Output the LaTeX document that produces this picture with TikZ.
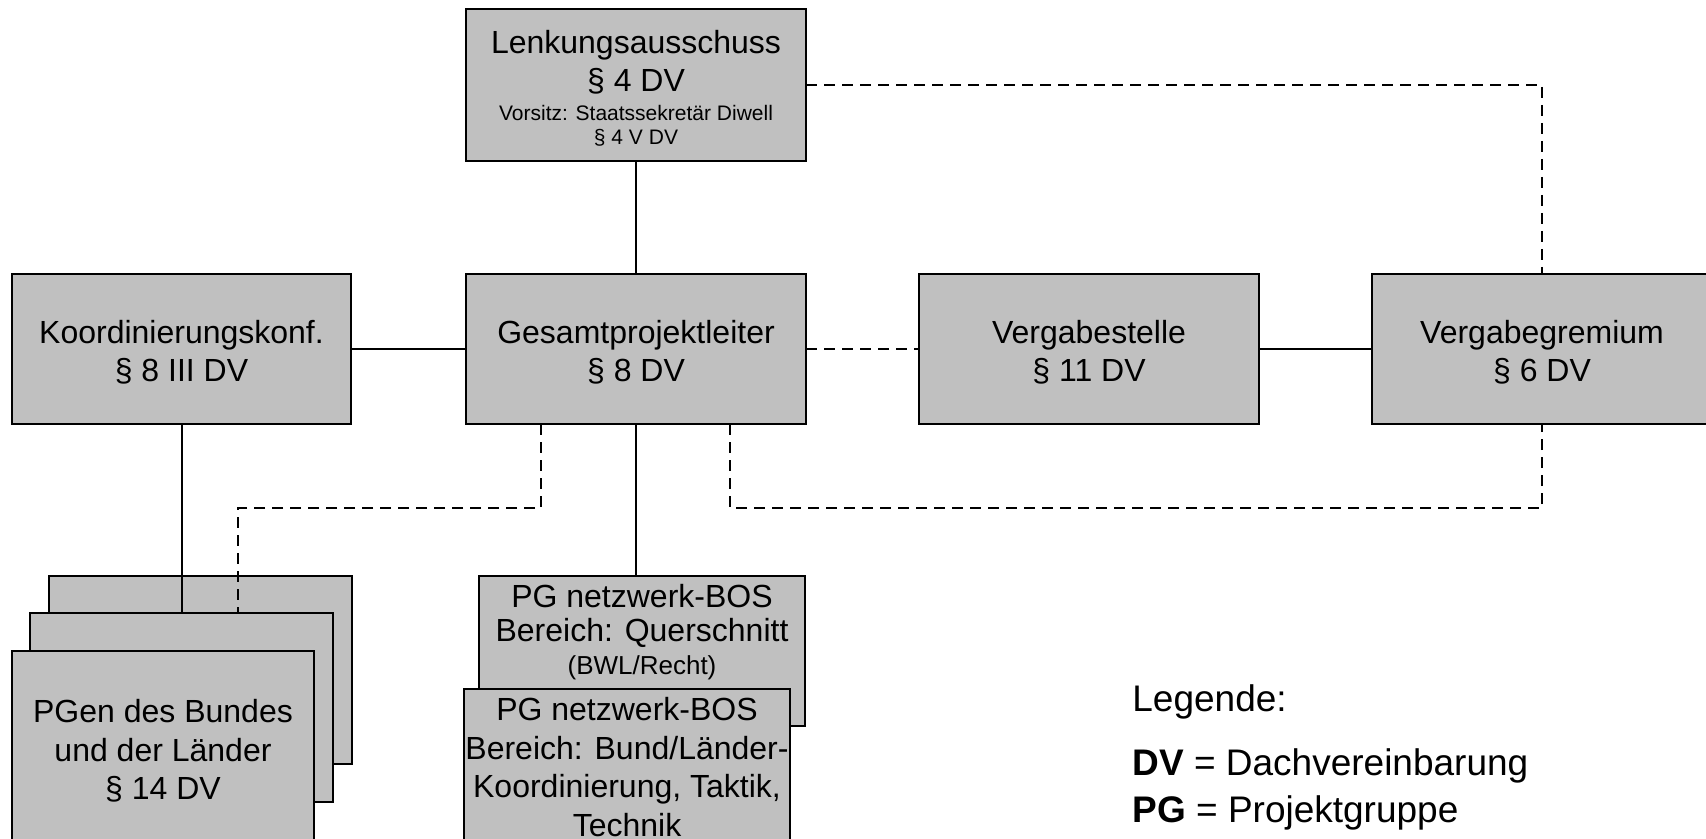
\documentclass[tikz,border=0pt]{standalone}
\usepackage{fontspec}
\setmainfont{Liberation Sans}
\definecolor{boxgray}{RGB}{192,192,192}
\tikzset{
  box/.style={draw=black, line width=1pt, fill=boxgray, inner sep=0pt, outer sep=0pt,
    align=center, font=\fontsize{16}{19.2}\selectfont},
  lbl/.style={inner sep=0pt, align=center, font=\fontsize{16}{19.2}\selectfont},
  conn/.style={draw=black, line width=1pt},
  dconn/.style={draw=black, line width=1pt, dash pattern=on 5.5pt off 3.5pt},
  legend/.style={inner sep=0pt, anchor=base west, font=\fontsize{18.5}{22}\selectfont}
}
\begin{document}
\begin{tikzpicture}[x=0.5pt, y=-0.5pt]
\clip (0,0) rectangle (1706,839);
\fill[white] (0,0) rectangle (1706,839);

% top
\node[box, minimum width=170pt, minimum height=76pt] (lenk) at (636,85)
  {\\[-4.5pt]Lenkungsausschuss\\§ 4 DV\\[-5pt]{\fontsize{10.5}{12}\selectfont Vorsitz: Staatssekretär Diwell}\\[-7pt]{\fontsize{10.5}{12}\selectfont § 4 V DV}};

% middle row
\node[box, minimum width=169.5pt, minimum height=75pt] (koord) at (181.5,349) {\\[-4.5pt]Koordinierungskonf.\\§ 8 III DV};
\node[box, minimum width=170pt, minimum height=75pt] (gesamt) at (636,349) {\\[-4.5pt]Gesamtprojektleiter\\§ 8 DV};
\node[box, minimum width=170pt, minimum height=75pt] (vstelle) at (1089,349) {\\[-4.5pt]Vergabestelle\\§ 11 DV};
\node[box, minimum width=170pt, minimum height=75pt] (vgrem) at (1542,349) {\\[-4.5pt]Vergabegremium\\§ 6 DV};

% PGen stack
\node[box, minimum width=151.5pt, minimum height=94pt] (pgback) at (200.5,670) {};
\node[box, minimum width=151.5pt, minimum height=94.5pt] (pgmid) at (181.5,707.5) {};
\node[box, minimum width=151pt, minimum height=100pt] (pgfront) at (163,751) {PGen des Bundes\\und der Länder\\§ 14 DV};

% PG netzwerk-BOS boxes
\node[box, minimum width=163pt, minimum height=75pt] (quer) at (642,651) {};
\node[lbl] (quertext) at (642,632) {PG netzwerk-BOS\\[-2pt]Bereich: Querschnitt\\[-3pt]{\fontsize{13}{15}\selectfont (BWL/Recht)}};
\node[box, minimum width=163pt, minimum height=78pt] (bund) at (627,767) {PG netzwerk-BOS\\Bereich: Bund/Länder-\\Koordinierung, Taktik,\\Technik};

% connectors
\coordinate (dl) at (238,508);
\draw[conn] (lenk.south) -- (gesamt.north);
\draw[conn] (koord.east) -- (gesamt.west);
\draw[dconn] (gesamt.east) -- (vstelle.west);
\draw[conn] (vstelle.east) -- (vgrem.west);
\draw[dconn] (lenk.east) -| (vgrem.north);
\draw[conn] (koord.south) -- (pgmid.north);
\draw[dconn] ([xshift=-47.5pt]gesamt.south) |- (dl) -- (dl |- pgmid.north);
\draw[conn] (gesamt.south) -- (gesamt.south |- quer.north);
\draw[dconn] ([xshift=47pt]gesamt.south) |- (vgrem.south |- dl) -- (vgrem.south);

% legend
\node[legend] (leg) at (1132,711) {Legende:};
\node[legend] (legdv) at (1132,775) {\textbf{DV} = Dachvereinbarung};
\node[legend] (legpg) at (1132,822) {\textbf{PG} = Projektgruppe};
\end{tikzpicture}
\end{document}
